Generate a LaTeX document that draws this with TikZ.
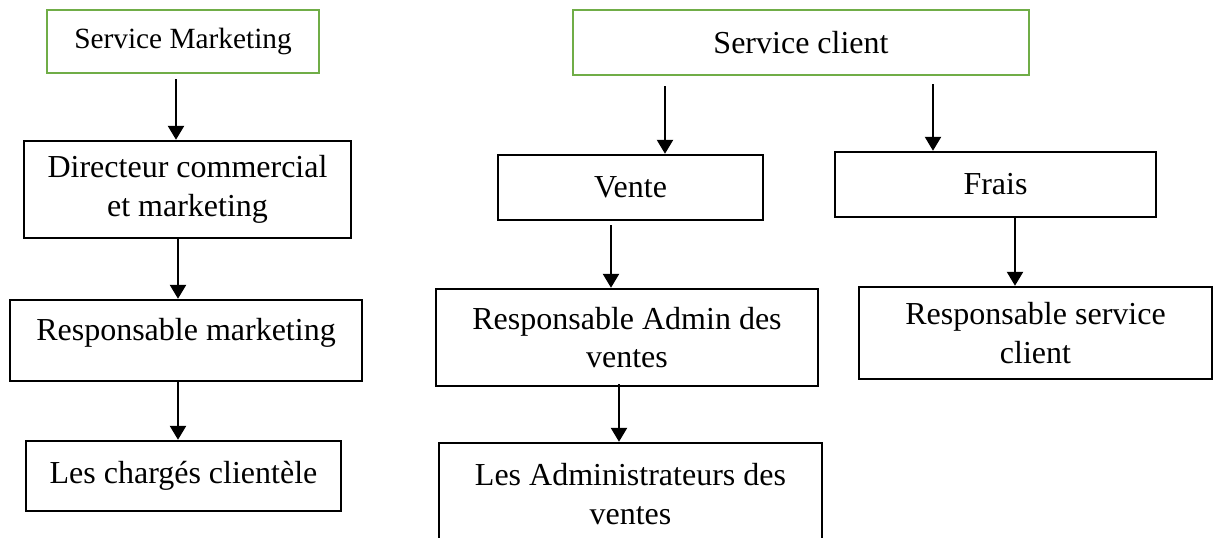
\documentclass[tikz,border=0pt]{standalone}
\usepackage{fontspec}
\setmainfont{Liberation Serif}
\usetikzlibrary{arrows.meta}
\definecolor{boxgreen}{HTML}{70AD47}
\begin{document}
\begin{tikzpicture}[x=0.75pt,y=-0.75pt,
  box/.style={draw=black, line width=1.8pt, inner sep=0pt, align=center, font=\fontsize{24}{29}\selectfont},
  gbox/.style={box, draw=boxgreen, line width=1.6pt},
  arr/.style={line width=1.8pt, -{Triangle[width=12pt,length=10.5pt]}}]
\useasboundingbox (0,0) rectangle (1216,538);
% left column
\node[gbox, minimum width=204pt, minimum height=47.25pt, font=\fontsize{22}{26}\selectfont] (sm) at (183,41.5) {Service Marketing};
\node[box, minimum width=245.25pt, minimum height=72.75pt] (dir) at (187.5,189.5) {Directeur commercial\\et marketing};
\node[box, minimum width=264pt, minimum height=60.75pt, text height=16pt, text depth=16pt] (rm) at (186,340.5) {Responsable marketing};
\node[box, minimum width=236.25pt, minimum height=52.5pt] (lc) at (183.5,476) {Les chargés clientèle};
% right part
\node[gbox, minimum width=342pt, minimum height=48.75pt] (sc) at (801,42.5) {Service client};
\node[box, minimum width=198.75pt, minimum height=48.75pt] (vente) at (630.5,187.5) {Vente};
\node[box, minimum width=240.75pt, minimum height=48.75pt] (frais) at (995.5,184.5) {Frais};
\node[box, minimum width=286.5pt, minimum height=72.75pt] (ra) at (627,337.5) {Responsable Admin des\\ventes};
\node[box, minimum width=264.75pt, minimum height=69pt] (rsc) at (1035.5,333) {Responsable service\\client};
\node[box, minimum width=287.25pt, minimum height=76.5pt] (la) at (630.5,494) {Les Administrateurs des\\ventes};
% connectors
\path (sm.south) ++(-7,5) coordinate (a1s);
\draw[arr] (a1s) -- (a1s |- dir.north);
\path (dir.south) ++(-9.5,0) coordinate (a2s);
\draw[arr] (a2s) -- (a2s |- rm.north);
\path (rm.south) ++(-8,0) coordinate (a3s);
\draw[arr] (a3s) -- (a3s |- lc.north);
\path (sc.south) ++(-136,10) coordinate (a4s);
\draw[arr] (a4s) -- (a4s |- vente.north);
\path (sc.south) ++(132,8) coordinate (a5s);
\draw[arr] (a5s) -- (a5s |- frais.north);
\path (vente.south) ++(-19.5,4) coordinate (a6s);
\draw[arr] (a6s) -- (a6s |- ra.north);
\path (frais.south) ++(19.5,0) coordinate (a7s);
\draw[arr] (a7s) -- (a7s |- rsc.north);
\path (ra.south) ++(-8,-3) coordinate (a8s);
\draw[arr] (a8s) -- (a8s |- la.north);
\end{tikzpicture}
\end{document}
